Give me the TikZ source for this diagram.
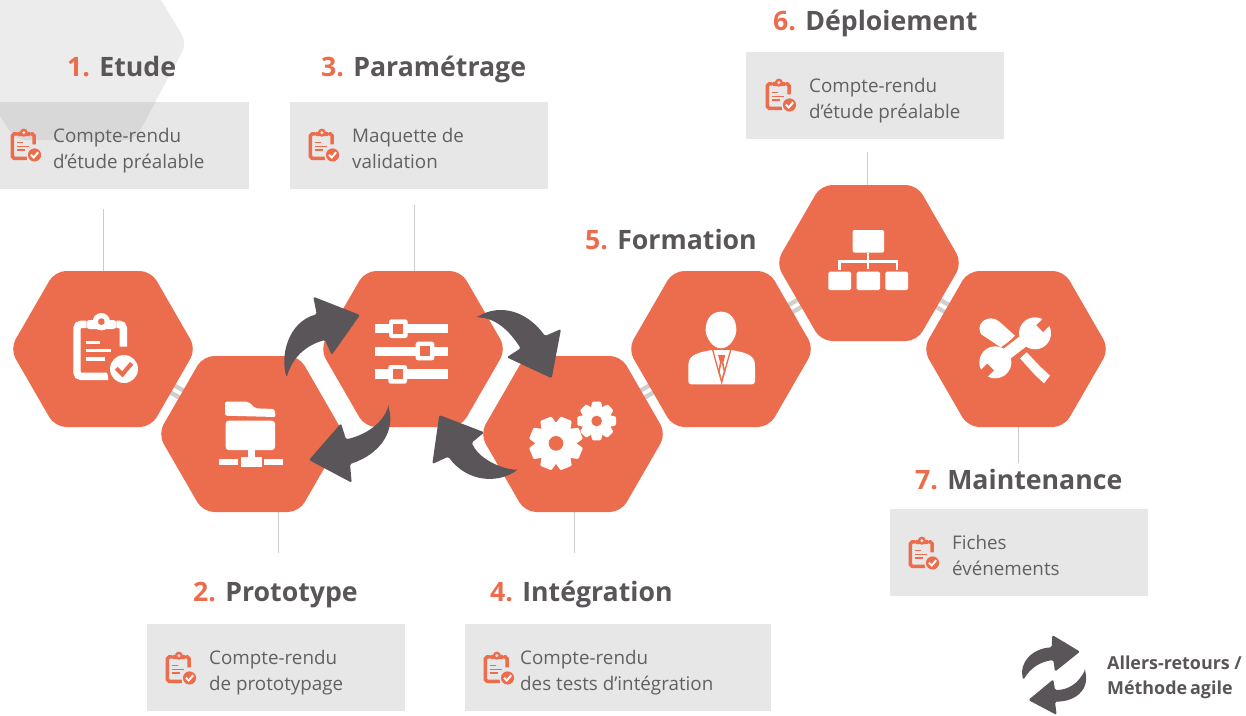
\documentclass[tikz,border=0pt]{standalone}
\usepackage{fontspec}
\setmainfont{Open Sans}
\usetikzlibrary{calc}
\definecolor{accent}{HTML}{EC6D4D}
\definecolor{ink}{HTML}{5A5558}
\definecolor{bodyink}{HTML}{636064}
\definecolor{panel}{HTML}{E7E7E7}
\definecolor{ghost}{HTML}{ECECEC}
\definecolor{ghostdark}{HTML}{D8D8D8}
\definecolor{stem}{HTML}{CCCCCC}
\definecolor{linkgrey}{HTML}{CFCFCF}
\tikzset{
  hexfill/.style={fill=accent,rounded corners=11pt},
  panelbox/.style={fill=panel,draw=none},
  stemline/.style={draw=stem,line width=1pt},
  linkbar/.style={draw=linkgrey,line width=4.5pt,double=white,double distance=3.5pt},
  cyclearrow/.style={fill=ink,rounded corners=1.5pt},
  iconwhite/.style={fill=white},
  heading/.style={anchor=base west,inner sep=0pt,text=ink,font=\fontsize{26.7}{30}\selectfont\bfseries},
  bodytext/.style={anchor=base west,inner sep=0pt,text=bodyink,align=left,font=\fontsize{18.8}{25.5}\selectfont},
  legendtext/.style={anchor=base west,inner sep=0pt,text=ink,align=left,font=\fontsize{17.9}{25}\selectfont\bfseries},
  pics/clipicon/.style n args={5}{code={
    \draw[#1,line width=#5*7.4pt,rounded corners=#5*4pt] (70,58) -- (42,58) -- (42,214) -- (135,214);
    \draw[#1,line width=#5*7.4pt,rounded corners=#5*4pt] (160,58) -- (181,58) -- (181,125);
    \fill[#1,rounded corners=#5*3pt] (70,45) rectangle (160,72);
    \fill[#1] (115,50) circle (26);
    \fill[#2] (115,50) circle (10);
    \draw[#1,line width=#5*3.4pt] (70,112) -- (112,112) (70,137) -- (145,137) (70,162) -- (125,162);
    \fill[#2] (183,192) circle (52);
    \fill[#3] (183,192) circle (42);
    \draw[#4,line width=#5*4.2pt] (160,190) -- (178,208) -- (206,175);
  }}
}
\newcommand{\ghostpath}{(-50,43) -- (0,-48) -- (158,-5) -- (187,43) -- (135,140) -- (16,140) -- cycle}
\newcommand{\hexcell}[1]{\fill[hexfill,shift={(#1)}] (-93,0) -- (-48,-78) -- (48,-78) -- (93,0) -- (48,78) -- (-48,78) -- cycle;}
\newcommand{\geartooth}[5]{\foreach \a in {0,45,...,315}{\fill[iconwhite,shift={(#1,#2)},rotate=\a+#5,rounded corners=1pt] (-#4,-#3) -- (#4,-#3) -- ({#4*1.4},{-#3*.62}) -- ({-#4*1.4},{-#3*.62}) -- cycle;}}
\begin{document}
\begin{tikzpicture}[x=1pt,y=-1pt]
\useasboundingbox (0,0) rectangle (1246,715);
\clip (0,0) rectangle (1246,715);
% ghost hexagon
\fill[ghost,rounded corners=10pt] \ghostpath;
% panels
\fill[panelbox] (0,102) rectangle (249,189);
\begin{scope}
  \clip (0,102) rectangle (249,189);
  \fill[ghostdark,rounded corners=10pt] \ghostpath;
\end{scope}
\fill[panelbox] (290,102) rectangle (548,189);
\fill[panelbox] (746,52) rectangle (1004,139);
\fill[panelbox] (890,509) rectangle (1148,596);
\fill[panelbox] (147,624) rectangle (405,711);
\fill[panelbox] (465,624) rectangle (771,711);
% hexagon centres
\coordinate (h1) at (103,349);
\coordinate (h2) at (251,434);
\coordinate (h3) at (413,349);
\coordinate (h4) at (573,434);
\coordinate (h5) at (721,349);
\coordinate (h6) at (869,263);
\coordinate (h7) at (1016,349);
% stems
\coordinate (s1a) at (103,209); \coordinate (s1b) at (103,272);
\coordinate (s3a) at (414,205); \coordinate (s3b) at (414,272);
\coordinate (s6a) at (867,152); \coordinate (s6b) at (867,186);
\coordinate (s2a) at (278,511); \coordinate (s2b) at (278,553);
\coordinate (s4a) at (574,511); \coordinate (s4b) at (574,553);
\coordinate (s7a) at (1018,426); \coordinate (s7b) at (1018,463);
\draw[stemline] (s1a) -- (s1b);
\draw[stemline] (s3a) -- (s3b);
\draw[stemline] (s6a) -- (s6b);
\draw[stemline] (s2a) -- (s2b);
\draw[stemline] (s4a) -- (s4b);
\draw[stemline] (s7a) -- (s7b);
% links
\draw[linkbar] (h1) -- (h2);
\draw[linkbar] (h4) -- (h5);
\draw[linkbar] (h5) -- (h6);
\draw[linkbar] (h6) -- (h7);
% hexagons
\hexcell{h1}\hexcell{h2}\hexcell{h3}\hexcell{h4}\hexcell{h5}\hexcell{h6}\hexcell{h7}
% icon 1
\pic[scale=1/3] at (63,305) {clipicon={white}{accent}{white}{accent}{1}};
% icon 2 folder
\begin{scope}[shift={(210,390)},scale=1/3]
  \fill[iconwhite,rounded corners=2pt] (45,77) -- (45,35) -- (115,35) -- (136,55) -- (194,57) -- (197,81) -- cycle;
  \fill[iconwhite,rounded corners=3pt] (47,92) rectangle (195,180);
  \fill[iconwhite] (113,178) rectangle (135,202);
  \fill[iconwhite] (92,200) rectangle (155,232);
  \fill[iconwhite] (28,207) rectangle (85,225);
  \fill[iconwhite] (162,207) rectangle (218,225);
\end{scope}
% icon 3 sliders
\begin{scope}[shift={(270,260)},scale=1/3]
  \fill[iconwhite] (315,192) rectangle (535,220);
  \fill[iconwhite] (315,260) rectangle (535,288);
  \fill[iconwhite] (315,328) rectangle (535,358);
  \fill[iconwhite,rounded corners=2.5pt] (357,178) rectangle (413,234);
  \fill[accent] (370,191) rectangle (400,221);
  \fill[iconwhite,rounded corners=2.5pt] (437,245) rectangle (493,301);
  \fill[accent] (450,258) rectangle (480,288);
  \fill[iconwhite,rounded corners=2.5pt] (355,315) rectangle (411,371);
  \fill[accent] (368,328) rectangle (398,358);
\end{scope}
% icon 4 gears
\begin{scope}[shift={(520,395)},scale=1/3]
  \fill[iconwhite] (108,145) circle (62);
  \geartooth{108}{145}{80}{18}{22.5}
  \fill[accent] (108,145) circle (22);
  \fill[iconwhite] (230,78) circle (45);
  \geartooth{230}{78}{58}{13}{0}
  \fill[accent] (230,78) circle (16);
\end{scope}
% icon 5 person
\begin{scope}[shift={(680,305)},scale=1/3]
  \fill[iconwhite] (123,20) .. controls (95,20) and (77,42) .. (77,75) .. controls (77,98) and (98,130) .. (123,130) .. controls (148,130) and (169,98) .. (169,75) .. controls (169,42) and (151,20) .. (123,20) -- cycle;
  \fill[iconwhite,rounded corners=3pt] (95,135) .. controls (60,142) and (27,148) .. (25,185) -- (25,238) -- (225,238) -- (225,185) .. controls (223,148) and (190,142) .. (155,135) -- cycle;
  \draw[accent,line width=1.3pt] (98,135) -- (125,232) -- (152,135);
  \fill[accent] (114,150) -- (136,150) -- (130,172) -- (136,200) -- (125,222) -- (131,200) -- (125,172) -- (119,200) -- (125,222) -- (114,200) -- (120,172) -- cycle;
\end{scope}
% icon 6 org chart
\begin{scope}[shift={(630,180)},scale=1/3]
  \fill[iconwhite,rounded corners=2pt] (668,150) rectangle (762,218);
  \fill[iconwhite] (710,218) rectangle (718,268);
  \fill[iconwhite] (625,240) rectangle (805,248);
  \fill[iconwhite] (625,240) rectangle (633,270);
  \fill[iconwhite] (797,240) rectangle (805,270);
  \fill[iconwhite,rounded corners=1.5pt] (595,275) rectangle (663,330);
  \fill[iconwhite,rounded corners=1.5pt] (680,275) rectangle (750,330);
  \fill[iconwhite,rounded corners=1.5pt] (766,275) rectangle (834,330);
\end{scope}
% icon 7 tools
\begin{scope}[shift={(970,305)},scale=1/3]
  \fill[iconwhite] (34,88) .. controls (22,72) and (30,42) .. (62,40) .. controls (72,39) and (80,44) .. (88,50) -- (135,92) -- (97,130) -- cycle;
  \fill[iconwhite] (150,160) -- (170,142) -- (212,186) -- (240,212) -- (222,235) -- (195,210) -- cycle;
  \draw[accent,line width=18pt] (190,90) -- (80,170);
  \fill[iconwhite] (195,85) circle (48);
  \fill[iconwhite] (76,172) circle (48);
  \draw[white,line width=12pt] (190,85) -- (80,170);
  \draw[accent,line width=9.5pt] (209,71) -- (252,28);
  \draw[accent,line width=9.5pt] (62,186) -- (20,228);
\end{scope}
% cycle arrows
\fill[cyclearrow] (286.7,377.3) .. controls (280,356) and (288,322) .. (316.7,314.3) -- (313.3,296.7) -- (360,315) -- (331.7,355) -- (325,340) .. controls (307,345) and (293,356) .. (286.7,377.3) -- cycle;
\fill[cyclearrow] (388.3,406) .. controls (396,433) and (378,455) .. (350,464) -- (351.7,482.7) -- (309,460) -- (341,423.3) -- (346,439.3) .. controls (366,435) and (383,423) .. (388.3,406) -- cycle;
\fill[cyclearrow] (476.7,317.3) .. controls (500,303) and (527,311) .. (545,336) -- (561,329) -- (551.7,378.3) -- (506.7,357.3) -- (520.7,348.3) .. controls (510,332) and (497,318) .. (476.7,317.3) -- cycle;
\fill[cyclearrow] (517.3,470) .. controls (497,484) and (467,482) .. (448.3,456.7) -- (432.3,464) -- (439.3,415) -- (484.3,432.3) -- (471.7,442.7) .. controls (478,457) and (497,468) .. (517.3,470) -- cycle;
% legend arrows
\begin{scope}[shift={(1000,620)},scale=1/3]
  \fill[cyclearrow] (70,180) .. controls (55,125) and (100,85) .. (155,82) -- (157,45) -- (240,95) -- (165,155) -- (160,120) .. controls (120,125) and (90,145) .. (70,180) -- cycle;
  \fill[cyclearrow] (255,150) .. controls (270,215) and (220,245) .. (165,245) -- (170,285) -- (85,240) -- (160,178) -- (165,210) .. controls (205,210) and (235,190) .. (255,150) -- cycle;
\end{scope}
% panel icons
\pic[scale=.157] at (5.8,124.8) {clipicon={accent}{panel}{accent}{white}{.47}};
\pic[scale=.157] at (303.8,124.8) {clipicon={accent}{panel}{accent}{white}{.47}};
\pic[scale=.157] at (760.8,74.8) {clipicon={accent}{panel}{accent}{white}{.47}};
\pic[scale=.157] at (903.8,532.8) {clipicon={accent}{panel}{accent}{white}{.47}};
\pic[scale=.157] at (160.8,647.8) {clipicon={accent}{panel}{accent}{white}{.47}};
\pic[scale=.157] at (478.8,647.8) {clipicon={accent}{panel}{accent}{white}{.47}};
% headings
\node[heading] (t1) at (67,76) {\textcolor{accent}{1.} Etude};
\node[heading] (t3) at (321,76) {\textcolor{accent}{3.} Paramétrage};
\node[heading] (t6) at (773,30) {\textcolor{accent}{6.} Déploiement};
\node[heading] (t5) at (585,249) {\textcolor{accent}{5.} Formation};
\node[heading] (t7) at (915,489) {\textcolor{accent}{7.} Maintenance};
\node[heading] (t2) at (193,601) {\textcolor{accent}{2.} Prototype};
\node[heading] (t4) at (490,601) {\textcolor{accent}{4.} Intégration};
% body
\node[bodytext] (b1) at (53,168) {Compte-rendu\\d’étude préalable};
\node[bodytext] (b3) at (352,168) {Maquette de\\validation};
\node[bodytext] (b6) at (809,118) {Compte-rendu\\d’étude préalable};
\node[bodytext] (b7) at (952,575) {Fiches\\événements};
\node[bodytext] (b2) at (209,690) {Compte-rendu\\de prototypage};
\node[bodytext] (b4) at (520,690) {Compte-rendu\\des tests d’intégration};
\node[legendtext] (lg) at (1107,694) {Allers-retours /\\Méthode\hspace{3pt}agile};
\end{tikzpicture}
\end{document}
